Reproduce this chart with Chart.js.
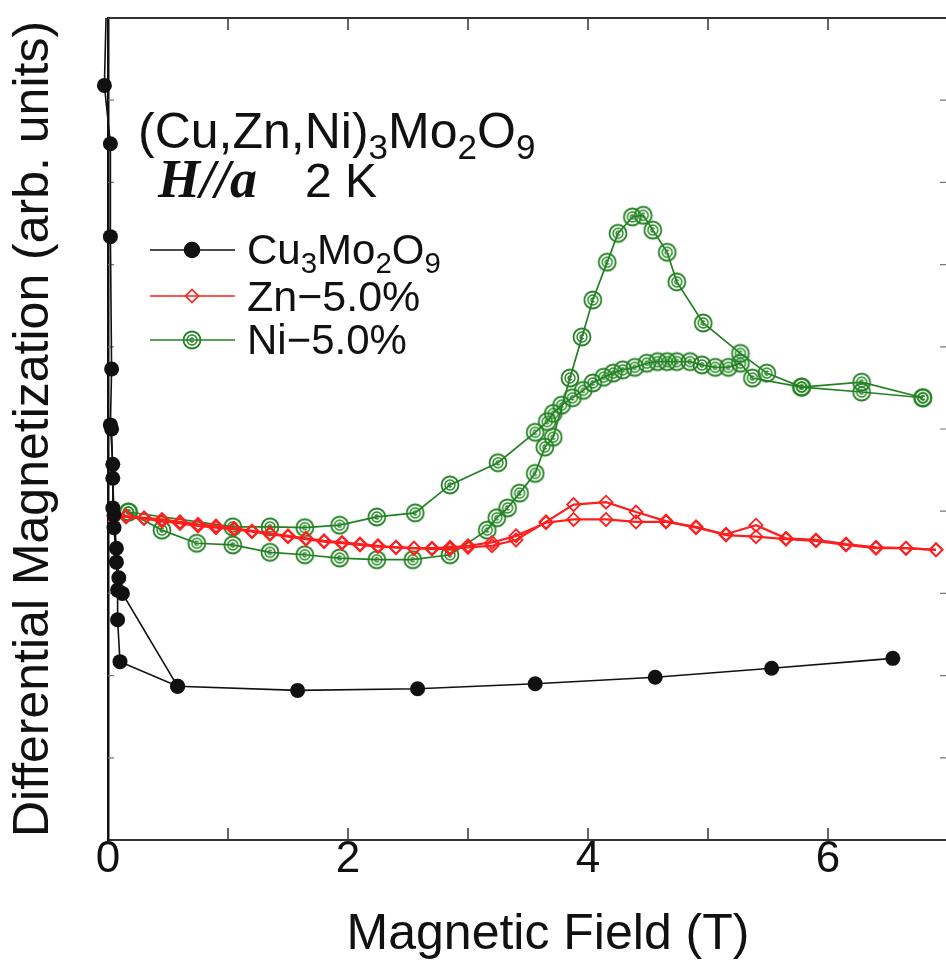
<!DOCTYPE html>
<html>
<head>
<meta charset="utf-8">
<title>Differential magnetization, H//a, 2 K</title>
<script src="https://cdn.jsdelivr.net/npm/chart.js@4.4.1/dist/chart.umd.min.js"></script>
<style>
  html, body { margin: 0; padding: 0; background: #fff; overflow: hidden; }
  #wrap { position: relative; width: 960px; height: 965px; }
  #plot { position: absolute; left: 0; top: 0; }
  .note {
    position: absolute;
    font-family: "Liberation Sans", Arial, sans-serif;
    color: #111;
    white-space: nowrap;
    line-height: 1;
  }
  .note sub { font-size: 0.7em; vertical-align: -0.3em; line-height: 0; }
  .serif { font-family: "Liberation Serif", "Times New Roman", serif; font-weight: bold; font-style: italic; }
</style>
</head>
<body>
<div id="wrap">
  <canvas id="plot" width="960" height="965"></canvas>
  <div class="note" style="left:138px; top:106px; font-size:50px">(Cu,Zn,Ni)<sub>3</sub>Mo<sub>2</sub>O<sub>9</sub></div>
  <div class="note serif" style="left:158px; top:152px; font-size:54px">H//a</div>
  <div class="note" style="left:305px; top:157px; font-size:48px">2 K</div>
  <div class="note" style="left:247px; top:229px; font-size:42px">Cu<sub>3</sub>Mo<sub>2</sub>O<sub>9</sub></div>
  <div class="note" style="left:247px; top:275px; font-size:43px">Zn&minus;5.0%</div>
  <div class="note" style="left:247px; top:319px; font-size:42px">Ni&minus;5.0%</div>
  <div class="note" style="left:548px; top:907px; font-size:50px; transform:translateX(-50%)">Magnetic Field (T)</div>
</div>
<script>
// tick values
const xTickLabels = [0, 2, 4, 6];
const fieldMarks = [1, 2, 3, 4, 5, 6];
const levelMarks = [1, 2, 3, 4, 5, 6, 7, 8, 9];

// Cu3Mo2O9: sweep down to zero field (ends on the low-field spike), and second sweep leaving the spike
const cuFieldA = [6.54, 5.53, 4.56, 3.56, 2.58, 1.58, 0.58, 0.10, 0.08, 0.08, 0.07, 0.05, 0.04, 0.04, 0.02, 0.03, 0.02, 0.02, -0.03, 0.00];
const cuSignalA = [2.21, 2.09, 1.98, 1.90, 1.84, 1.82, 1.87, 2.17, 2.68, 3.04, 3.38, 3.80, 4.04, 4.57, 5.05, 5.73, 7.34, 8.47, 9.18, 11.0];
const cuFieldB = [0.03, 0.04, 0.05, 0.07, 0.09, 0.12, 0.58];
const cuSignalB = [5.00, 4.40, 3.95, 3.55, 3.19, 3.00, 1.87];

// Zn 5.0%: field up / field down
const znFieldUp = [0.00, 0.15, 0.30, 0.45, 0.60, 0.75, 0.90, 1.05, 1.20, 1.35, 1.50, 1.65, 1.80, 1.95, 2.10, 2.25, 2.40, 2.55, 2.70, 2.85, 3.00, 3.20, 3.40, 3.65, 3.88, 4.15, 4.40, 4.65, 4.90, 5.15, 5.40, 5.65, 5.90, 6.15, 6.40, 6.65, 6.90];
const znSignalUp = [3.95, 3.93, 3.91, 3.88, 3.85, 3.82, 3.80, 3.78, 3.75, 3.72, 3.69, 3.66, 3.63, 3.61, 3.59, 3.57, 3.56, 3.55, 3.55, 3.56, 3.58, 3.62, 3.70, 3.86, 3.90, 3.90, 3.87, 3.87, 3.81, 3.71, 3.69, 3.66, 3.64, 3.59, 3.55, 3.55, 3.53];
const znFieldDown = [6.90, 6.65, 6.40, 6.15, 5.90, 5.65, 5.40, 5.15, 4.90, 4.65, 4.40, 4.15, 3.88, 3.65, 3.40, 3.20, 3.00, 2.85, 2.70, 2.55, 2.40, 2.25, 2.10, 1.95, 1.80, 1.65, 1.50, 1.35, 1.20, 1.05, 0.90, 0.75, 0.60, 0.45, 0.30, 0.15, 0.00];
const znSignalDown = [3.53, 3.55, 3.56, 3.60, 3.65, 3.67, 3.83, 3.72, 3.80, 3.88, 3.99, 4.11, 4.08, 3.87, 3.65, 3.58, 3.56, 3.54, 3.54, 3.55, 3.56, 3.58, 3.60, 3.62, 3.64, 3.67, 3.70, 3.73, 3.76, 3.79, 3.82, 3.84, 3.87, 3.90, 3.92, 3.94, 3.96];

// Ni 5.0%: broad branch and sharp-peak branch
const niFieldA = [0.17, 1.04, 1.35, 1.64, 1.93, 2.24, 2.56, 2.85, 3.25, 3.56, 3.66, 3.71, 3.78, 3.87, 3.96, 4.04, 4.13, 4.21, 4.29, 4.39, 4.49, 4.58, 4.66, 4.74, 4.85, 4.95, 5.06, 5.17, 5.27, 5.37, 5.78, 6.28, 6.79];
const niSignalA = [3.99, 3.81, 3.81, 3.80, 3.83, 3.93, 3.98, 4.32, 4.59, 4.96, 5.09, 5.19, 5.29, 5.38, 5.47, 5.56, 5.63, 5.68, 5.72, 5.75, 5.80, 5.82, 5.82, 5.82, 5.82, 5.78, 5.75, 5.75, 5.80, 5.62, 5.51, 5.45, 5.38];
const niFieldB = [0.17, 0.45, 0.74, 1.04, 1.35, 1.64, 1.93, 2.24, 2.54, 2.85, 3.16, 3.24, 3.33, 3.43, 3.56, 3.64, 3.71, 3.85, 3.95, 4.04, 4.16, 4.25, 4.37, 4.46, 4.54, 4.66, 4.74, 4.96, 5.27, 5.49, 5.78, 6.28, 6.79];
const niSignalB = [3.99, 3.77, 3.61, 3.59, 3.50, 3.47, 3.43, 3.41, 3.41, 3.47, 3.77, 3.92, 4.04, 4.22, 4.46, 4.78, 4.90, 5.62, 6.12, 6.57, 7.03, 7.38, 7.58, 7.60, 7.42, 7.15, 6.79, 6.29, 5.92, 5.68, 5.51, 5.57, 5.38];

const FONT = '"Liberation Sans", Arial, sans-serif';
const BLACK = '#111';
const RED = 'rgb(255, 30, 30)';
const GREEN = 'rgb(34, 130, 34)';

const pairs = (xs, ys) => xs.map((v, i) => ({ x: v, y: ys[i] }));

// double-ring marker for the Ni data
function ringMarker() {
  const c = document.createElement('canvas');
  c.width = 22; c.height = 22;
  const g = c.getContext('2d');
  g.strokeStyle = GREEN;
  g.lineWidth = 1.8;
  g.beginPath(); g.arc(11, 11, 8.5, 0, Math.PI * 2); g.stroke();
  g.lineWidth = 1.4;
  g.beginPath(); g.arc(11, 11, 5, 0, Math.PI * 2); g.stroke();
  g.beginPath(); g.arc(11, 11, 2, 0.6, Math.PI * 1.8); g.stroke();
  return c;
}
const niMarker = ringMarker();

const cuStyle = {
  borderColor: BLACK, backgroundColor: BLACK, borderWidth: 1.6,
  pointStyle: 'circle', pointRadius: 7.5, pointBackgroundColor: BLACK, pointBorderWidth: 0,
  showLine: true, clip: { left: 12, top: 0, right: 0, bottom: 0 }
};
const znStyle = {
  borderColor: RED, backgroundColor: 'rgba(0,0,0,0)', borderWidth: 2.2,
  pointStyle: 'rectRot', pointRadius: 6.5, pointBorderColor: RED, pointBorderWidth: 1.8,
  pointBackgroundColor: 'rgba(255,255,255,0)', showLine: true
};
const niStyle = {
  borderColor: GREEN, borderWidth: 1.7,
  pointStyle: niMarker, pointRadius: 9, showLine: true
};

const legendRows = [
  { y: 250, color: BLACK, style: 'circle', radius: 7.5, fill: BLACK },
  { y: 296, color: RED, style: 'rectRot', radius: 6.5, fill: 'rgba(255,255,255,0)' },
  { y: 340, color: GREEN, style: niMarker, radius: 9, fill: 'rgba(255,255,255,0)' }
];

// box edges, inward ticks and legend samples
const frameTicks = {
  id: 'frameTicks',
  beforeDatasetsDraw(chart) {
    const { ctx, chartArea: a, scales: { x, y } } = chart;
    ctx.save();
    ctx.strokeStyle = '#333';
    ctx.lineWidth = 2;
    ctx.beginPath();
    ctx.moveTo(a.left, a.top); ctx.lineTo(a.right, a.top); ctx.lineTo(a.right, a.bottom);
    ctx.stroke();

    ctx.lineWidth = 1.5;
    ctx.beginPath();
    fieldMarks.forEach(v => {
      const px = x.getPixelForValue(v);
      ctx.moveTo(px, a.bottom); ctx.lineTo(px, a.bottom - 12);
      ctx.moveTo(px, a.top); ctx.lineTo(px, a.top + 12);
    });
    ctx.stroke();

    ctx.strokeStyle = '#777';
    ctx.lineWidth = 1.2;
    ctx.beginPath();
    levelMarks.forEach(v => {
      const py = y.getPixelForValue(v);
      ctx.moveTo(a.left, py); ctx.lineTo(a.left + 6, py);
      ctx.moveTo(a.right, py); ctx.lineTo(a.right - 8, py);
    });
    ctx.stroke();
    ctx.restore();
  },
  afterDraw(chart) {
    const ctx = chart.ctx;
    ctx.save();
    legendRows.forEach(r => {
      ctx.strokeStyle = r.color;
      ctx.lineWidth = 1.6;
      ctx.beginPath(); ctx.moveTo(150, r.y); ctx.lineTo(235, r.y); ctx.stroke();
      ctx.fillStyle = r.fill;
      Chart.helpers.drawPoint(ctx, { pointStyle: r.style, radius: r.radius, rotation: 0, borderWidth: 1.8 }, 192, r.y);
    });
    ctx.restore();
  }
};

new Chart(document.getElementById('plot'), {
  type: 'scatter',
  data: {
    datasets: [
      { label: 'Cu3Mo2O9', data: pairs(cuFieldA, cuSignalA), ...cuStyle },
      { label: 'Cu3Mo2O9 (2)', data: pairs(cuFieldB, cuSignalB), ...cuStyle },
      { label: 'Zn-5.0%', data: pairs(znFieldUp, znSignalUp), ...znStyle },
      { label: 'Zn-5.0% (2)', data: pairs(znFieldDown, znSignalDown), ...znStyle },
      { label: 'Ni-5.0%', data: pairs(niFieldA, niSignalA), ...niStyle },
      { label: 'Ni-5.0% (2)', data: pairs(niFieldB, niSignalB), ...niStyle }
    ]
  },
  options: {
    responsive: false,
    animation: false,
    events: [],
    layout: { padding: { top: 18, right: 12, left: 0, bottom: 0 } },
    plugins: { legend: { display: false }, tooltip: { enabled: false } },
    scales: {
      x: {
        type: 'linear', min: 0, max: 7,
        afterBuildTicks: s => { s.ticks = xTickLabels.map(v => ({ value: v })); },
        afterFit: s => { s.height = 125; },
        ticks: { color: BLACK, padding: -2, maxRotation: 0, autoSkip: false,
                 font: { family: FONT, size: 44, lineHeight: 1 } },
        grid: { display: false, drawTicks: false },
        border: { display: true, color: '#333', width: 2 }
      },
      y: {
        type: 'linear', min: 0, max: 10,
        afterFit: s => { s.width = 108; },
        ticks: { display: false },
        grid: { display: false, drawTicks: false },
        border: { display: true, color: '#111', width: 2.5 },
        title: { display: true, text: 'Differential Magnetization (arb. units)', color: BLACK,
                 font: { family: FONT, size: 50 }, padding: { top: 4, bottom: 0 } }
      }
    }
  },
  plugins: [frameTicks]
});
</script>
</body>
</html>
